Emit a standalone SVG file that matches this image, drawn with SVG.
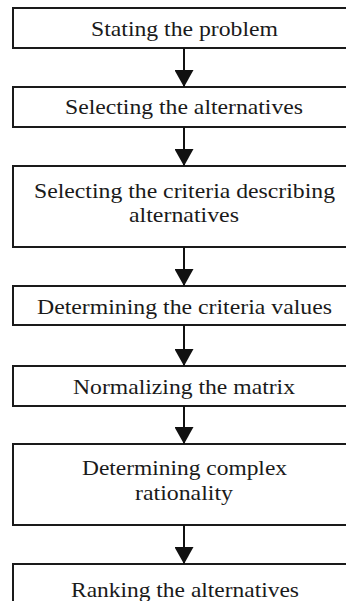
<svg xmlns="http://www.w3.org/2000/svg" width="346" height="601" viewBox="0 0 346 601">
<style>
.box{fill:#fff;stroke:#1a1a1a;stroke-width:2}
.t{font-family:'Liberation Serif','Times New Roman',serif;font-size:21px;fill:#1a1a1a;text-anchor:middle}
.c{stroke:#111;stroke-width:2;fill:none}
</style>
<defs>
<marker id="ah" markerUnits="userSpaceOnUse" markerWidth="17" markerHeight="19" refX="17" refY="9.5" orient="auto" viewBox="0 0 17 19">
<path d="M0,0 L17,9.5 L0,19 Z" fill="#111"/>
</marker>
</defs>
<rect width="346" height="601" fill="#fff"/>
<g id="n1"><rect class="box" x="13" y="8" width="350" height="40"/><text class="t" x="184.5" y="36" textLength="187" lengthAdjust="spacingAndGlyphs">Stating the problem</text></g>
<g id="n2"><rect class="box" x="13" y="87" width="350" height="40"/><text class="t" x="184" y="114" textLength="238" lengthAdjust="spacingAndGlyphs">Selecting the alternatives</text></g>
<g id="n3"><rect class="box" x="13" y="166" width="350" height="81"/><text class="t" x="184.5" y="198" textLength="301" lengthAdjust="spacingAndGlyphs">Selecting the criteria describing</text><text class="t" x="184" y="222" textLength="110" lengthAdjust="spacingAndGlyphs">alternatives</text></g>
<g id="n4"><rect class="box" x="13" y="286" width="350" height="39"/><text class="t" x="184.5" y="314" textLength="295" lengthAdjust="spacingAndGlyphs">Determining the criteria values</text></g>
<g id="n5"><rect class="box" x="13" y="366" width="350" height="40"/><text class="t" x="184" y="394" textLength="222" lengthAdjust="spacingAndGlyphs">Normalizing the matrix</text></g>
<g id="n6"><rect class="box" x="13" y="444" width="350" height="81"/><text class="t" x="184.5" y="475" textLength="205" lengthAdjust="spacingAndGlyphs">Determining complex</text><text class="t" x="184" y="500" textLength="98" lengthAdjust="spacingAndGlyphs">rationality</text></g>
<g id="n7"><rect class="box" x="13" y="564" width="350" height="60"/><text class="t" x="185" y="597" textLength="228" lengthAdjust="spacingAndGlyphs">Ranking the alternatives</text></g>
<g id="connectors">
<line class="c" x1="184" y1="48" x2="184" y2="87" marker-end="url(#ah)"/>
<line class="c" x1="184" y1="127" x2="184" y2="166" marker-end="url(#ah)"/>
<line class="c" x1="184" y1="247" x2="184" y2="286" marker-end="url(#ah)"/>
<line class="c" x1="184" y1="325" x2="184" y2="366" marker-end="url(#ah)"/>
<line class="c" x1="184" y1="406" x2="184" y2="444" marker-end="url(#ah)"/>
<line class="c" x1="184" y1="525" x2="184" y2="564" marker-end="url(#ah)"/>
</g>
</svg>
